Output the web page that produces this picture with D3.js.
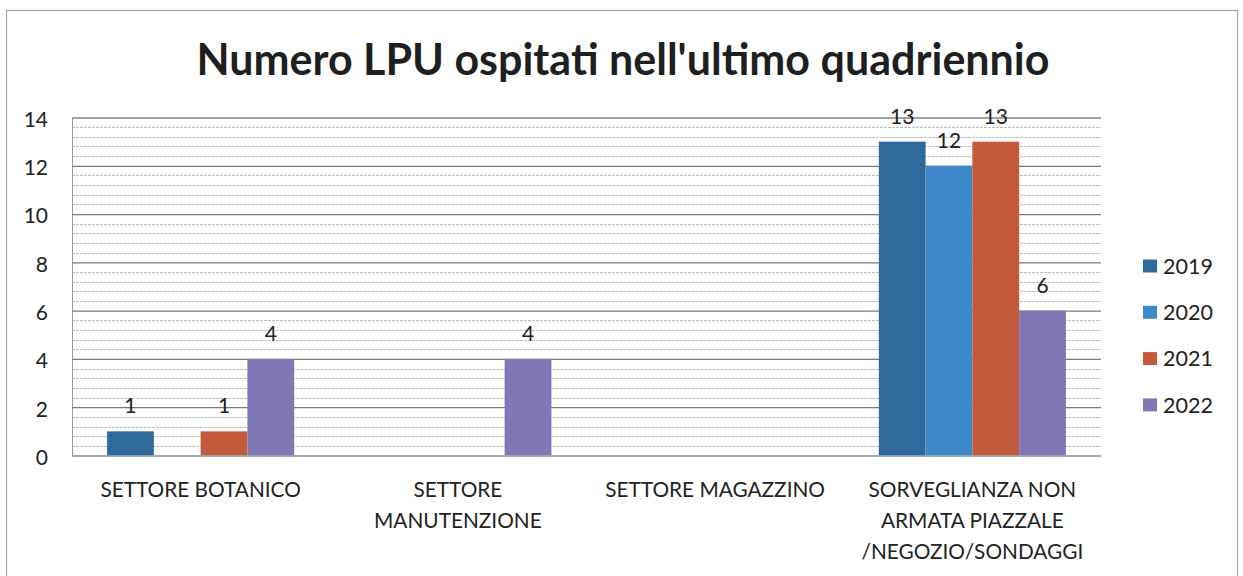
<!DOCTYPE html>
<html>
<head>
<meta charset="utf-8">
<script src="https://cdn.jsdelivr.net/npm/d3@7"></script>
<style>
  html, body { margin: 0; padding: 0; background: #fff; }
  svg { display: block; font-family: Lato, "Open Sans", sans-serif; }
</style>
</head>
<body>
<svg id="chart" width="1243" height="576"></svg>
<script>
// Categories (each label wrapped onto lines as it is printed)
const categories = [
  "SETTORE BOTANICO",
  "SETTORE MANUTENZIONE",
  "SETTORE MAGAZZINO",
  "SORVEGLIANZA NON ARMATA PIAZZALE /NEGOZIO/SONDAGGI"
];
const categoryLines = [
  ["SETTORE BOTANICO"],
  ["SETTORE", "MANUTENZIONE"],
  ["SETTORE MAGAZZINO"],
  ["SORVEGLIANZA NON", "ARMATA PIAZZALE", "/NEGOZIO/SONDAGGI"]
];
const years = ["2019", "2020", "2021", "2022"];
// LPU counts per year (null = no entry)
const values2019 = [1, null, null, 13];
const values2020 = [null, null, null, 12];
const values2021 = [1, null, null, 13];
const values2022 = [4, 4, null, 6];
const yTicks = [0, 2, 4, 6, 8, 10, 12, 14];
const colors = ["#2e6a9c", "#3d89c9", "#c35a3c", "#7f78b4"];

const seriesValues = [values2019, values2020, values2021, values2022];
const rows = categories.map((c, i) => ({
  category: c,
  lines: categoryLines[i],
  bars: years.map((y, j) => ({ year: y, value: seriesValues[j][i] }))
}));

const svg = d3.select("#chart");

// Chart frame
svg.append("rect")
  .attr("x", 6.5).attr("y", 10.5)
  .attr("width", 1231).attr("height", 600)
  .attr("fill", "#fff")
  .attr("stroke", "#a6a6a6").attr("stroke-width", 1.2);

// Title
svg.append("text")
  .attr("x", 623).attr("y", 75)
  .attr("text-anchor", "middle")
  .attr("font-size", 43).attr("font-weight", 700)
  .attr("fill", "#1f1f1f")
  .attr("textLength", 853).attr("lengthAdjust", "spacingAndGlyphs")
  .text("Numero LPU ospitati nell'ultimo quadriennio");

const plot = { left: 72, right: 1101, top: 117.5, bottom: 455.5 };

const x0 = d3.scaleBand()
  .domain(categories)
  .range([plot.left, plot.right])
  .paddingInner(0).paddingOuter(0);

const x1 = d3.scaleBand()
  .domain(years)
  .range([0, x0.bandwidth()])
  .paddingInner(0)
  .paddingOuter(0.75);

const y = d3.scaleLinear().domain([0, 14]).range([plot.bottom, plot.top]);

// Minor gridlines every 0.4
const minor = d3.range(0, 14.0001, 0.4).filter(v => Math.abs(v / 2 - Math.round(v / 2)) > 1e-6);
svg.append("g").selectAll("line")
  .data(minor).join("line")
  .attr("x1", plot.left).attr("x2", plot.right)
  .attr("y1", d => Math.round(y(d)) + 0.5).attr("y2", d => Math.round(y(d)) + 0.5)
  .attr("stroke", "#bdbdbd").attr("stroke-width", 1)
  .attr("stroke-dasharray", "3,1");

// Major gridlines + y axis
const yAxis = d3.axisLeft(y).tickValues(yTicks).tickSize(-(plot.right - plot.left)).tickPadding(24);
const gy = svg.append("g")
  .attr("transform", `translate(${plot.left},0)`)
  .call(yAxis);
gy.select(".domain").attr("stroke", "#9a9a9a");
gy.selectAll(".tick line").attr("stroke", "#7a7a7a").attr("stroke-width", 1.2);
gy.selectAll(".tick text")
  .attr("font-size", 21).attr("fill", "#222")
  .attr("font-family", "Lato, sans-serif")
  .attr("dy", "0.42em");

// Bars
const groups = svg.append("g").selectAll("g")
  .data(rows).join("g")
  .attr("transform", d => `translate(${x0(d.category)},0)`);

groups.selectAll("rect")
  .data(d => d.bars.filter(b => b.value != null))
  .join("rect")
  .attr("x", d => x1(d.year))
  .attr("width", x1.bandwidth())
  .attr("y", d => y(d.value))
  .attr("height", d => y(0) - y(d.value))
  .attr("fill", d => colors[years.indexOf(d.year)]);

// Value labels
groups.selectAll("text.val")
  .data(d => d.bars.filter(b => b.value != null))
  .join("text")
  .attr("class", "val")
  .attr("x", d => x1(d.year) + x1.bandwidth() / 2)
  .attr("y", d => y(d.value) - 18)
  .attr("text-anchor", "middle")
  .attr("font-size", 21).attr("fill", "#222")
  .text(d => d.value);

// X axis baseline
svg.append("line")
  .attr("x1", plot.left).attr("x2", plot.right)
  .attr("y1", plot.bottom + 0.5).attr("y2", plot.bottom + 0.5)
  .attr("stroke", "#9fb8c0").attr("stroke-width", 1.2);

// Category labels
const xl = svg.append("g").selectAll("text")
  .data(rows).join("text")
  .attr("x", d => x0(d.category) + x0.bandwidth() / 2)
  .attr("text-anchor", "middle")
  .attr("font-size", 20.8).attr("fill", "#222");
xl.selectAll("tspan")
  .data(d => d.lines.map((l, i) => ({ l, i, cx: x0(d.category) + x0.bandwidth() / 2 })))
  .join("tspan")
  .attr("x", d => d.cx)
  .attr("y", d => 497 + d.i * 30.8)
  .text(d => d.l);

// Legend
const legend = svg.append("g").selectAll("g")
  .data(years).join("g")
  .attr("transform", (d, i) => `translate(1143,${266 + i * 46.3})`);
legend.append("rect")
  .attr("x", 0).attr("y", -6.5)
  .attr("width", 14).attr("height", 13)
  .attr("fill", (d, i) => colors[i]);
legend.append("text")
  .attr("x", 20).attr("y", 0).attr("dy", "0.36em")
  .attr("font-size", 21.5).attr("fill", "#222")
  .text(d => d);
</script>
</body>
</html>
